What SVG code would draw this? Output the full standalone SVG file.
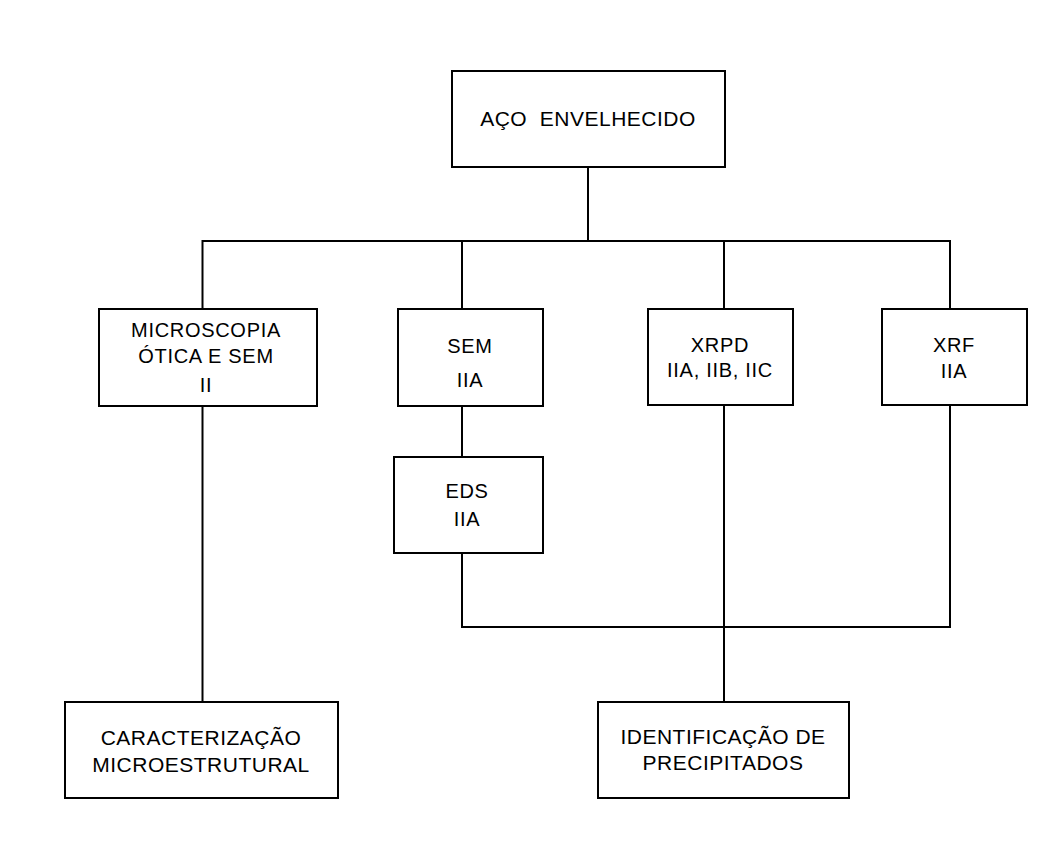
<svg xmlns="http://www.w3.org/2000/svg" width="1055" height="854" viewBox="0 0 1055 854">
  <style>
    .box { fill: #ffffff; stroke: #000000; stroke-width: 2; }
    .wire { fill: none; stroke: #000000; stroke-width: 2; }
    text { font-family: "Liberation Sans", Arial, sans-serif; fill: #000000; text-anchor: middle; }
    .big { font-size: 21px; letter-spacing: 0.5px; }
    .mid { font-size: 20px; letter-spacing: 0.7px; }
  </style>
  <rect width="1055" height="854" fill="#ffffff"/>

  <!-- connectors -->
  <g id="connectors">
    <path class="wire" d="M588 167 V241"/>
    <path class="wire" d="M202.5 309 V241 H950 V309"/>
    <path class="wire" d="M462 241 V309"/>
    <path class="wire" d="M724 241 V309"/>
    <path class="wire" d="M202.5 406 V702"/>
    <path class="wire" d="M462 406 V457"/>
    <path class="wire" d="M462 553 V627 H950 V405"/>
    <path class="wire" d="M724 405 V702"/>
  </g>

  <g id="aco-envelhecido">
    <rect class="box" x="452" y="71" width="273" height="96"/>
    <text class="big" x="588" y="126" xml:space="preserve">AÇO  ENVELHECIDO</text>
  </g>

  <g id="microscopia">
    <rect class="box" x="99" y="309" width="218" height="97"/>
    <text class="mid" x="206" y="337">MICROSCOPIA</text>
    <text class="mid" x="206" y="363">ÓTICA E SEM</text>
    <text class="mid" x="206" y="392">II</text>
  </g>

  <g id="sem">
    <rect class="box" x="398" y="309" width="145" height="97"/>
    <text class="mid" x="470" y="353">SEM</text>
    <text class="mid" x="470" y="387">IIA</text>
  </g>

  <g id="xrpd">
    <rect class="box" x="648" y="309" width="145" height="96"/>
    <text class="mid" x="720" y="352">XRPD</text>
    <text class="mid" x="720" y="377">IIA, IIB, IIC</text>
  </g>

  <g id="xrf">
    <rect class="box" x="882" y="309" width="145" height="96"/>
    <text class="mid" x="954" y="352">XRF</text>
    <text class="mid" x="954" y="378">IIA</text>
  </g>

  <g id="eds">
    <rect class="box" x="394" y="457" width="149" height="96"/>
    <text class="mid" x="467" y="498">EDS</text>
    <text class="mid" x="467" y="526">IIA</text>
  </g>

  <g id="caracterizacao">
    <rect class="box" x="65" y="702" width="273" height="96"/>
    <text class="big" x="201" y="745">CARACTERIZAÇÃO</text>
    <text class="big" x="201" y="772">MICROESTRUTURAL</text>
  </g>

  <g id="identificacao">
    <rect class="box" x="598" y="702" width="251" height="96"/>
    <text class="big" x="723" y="744">IDENTIFICAÇÃO DE</text>
    <text class="big" x="723" y="770">PRECIPITADOS</text>
  </g>
</svg>
